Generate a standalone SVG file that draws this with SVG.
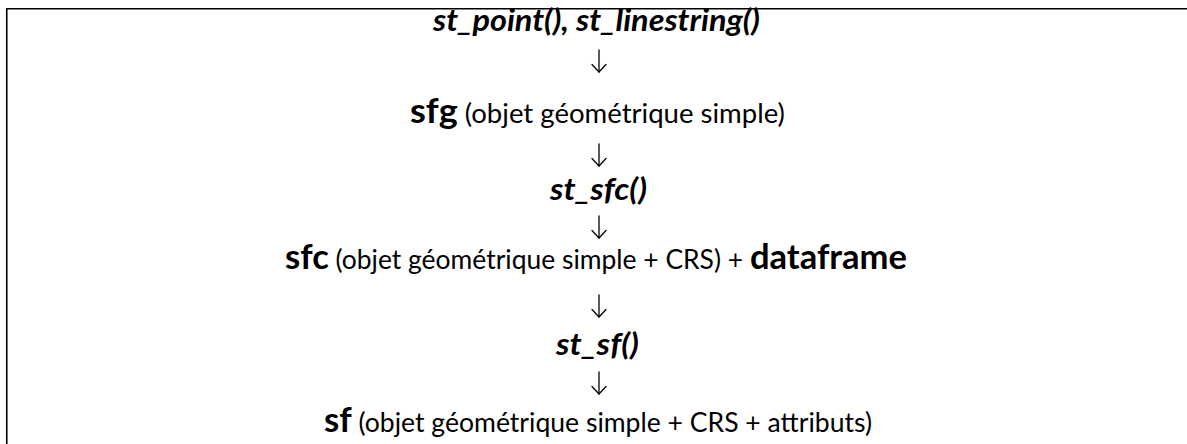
<svg xmlns="http://www.w3.org/2000/svg" width="1187" height="444" viewBox="0 0 1187 444">
<style>
.t{font-family:Lato,"Open Sans","Liberation Sans",sans-serif;fill:#000;text-anchor:middle}
.bi{font-weight:700;font-style:italic;font-size:29.5px}
.b{font-weight:700;font-size:34px}
.r{font-weight:400;font-size:26px}
.arr{stroke:#000;stroke-width:1.3;fill:none;stroke-linecap:round}
</style>
<defs>
<marker id="ah" markerUnits="userSpaceOnUse" markerWidth="12" markerHeight="18" refX="8" refY="7.5" orient="auto" overflow="visible">
<path d="M0.5,0.5 L8,7.5 L0.5,14.5" fill="none" stroke="#000" stroke-width="1.3" stroke-linecap="round" stroke-linejoin="round"/>
</marker>
</defs>
<rect width="1187" height="444" fill="#fff"/>
<path id="frame" d="M6.75,444 V8.75 H1187" stroke="#000" stroke-width="1.6" fill="none"/>
<g id="n1"><text class="t bi" x="596.5" y="31" textLength="327" lengthAdjust="spacingAndGlyphs">st_point(), st_linestring()</text></g>
<g id="n2"><text class="t" x="597.5" y="123" textLength="375" lengthAdjust="spacingAndGlyphs"><tspan class="b">sfg</tspan><tspan class="r"> (objet géométrique simple)</tspan></text></g>
<g id="n3"><text class="t bi" x="598.5" y="200" textLength="97" lengthAdjust="spacingAndGlyphs">st_sfc()</text></g>
<g id="n4"><text class="t" x="596" y="269" textLength="622" lengthAdjust="spacingAndGlyphs"><tspan class="b">sfc</tspan><tspan class="r"> (objet géométrique simple + CRS) + </tspan><tspan class="b">dataframe</tspan></text></g>
<g id="n5"><text class="t bi" x="597.5" y="355" textLength="83" lengthAdjust="spacingAndGlyphs">st_sf()</text></g>
<g id="n6"><text class="t" x="598" y="432" textLength="548" lengthAdjust="spacingAndGlyphs"><tspan class="b">sf</tspan><tspan class="r"> (objet géométrique simple + CRS + attributs)</tspan></text></g>
<g id="connectors" class="arr">
<path d="M599,50 V72" marker-end="url(#ah)"/>
<path d="M599,144 V166" marker-end="url(#ah)"/>
<path d="M599,216 V238" marker-end="url(#ah)"/>
<path d="M599,295 V317" marker-end="url(#ah)"/>
<path d="M599,372 V394" marker-end="url(#ah)"/>
</g>
</svg>
